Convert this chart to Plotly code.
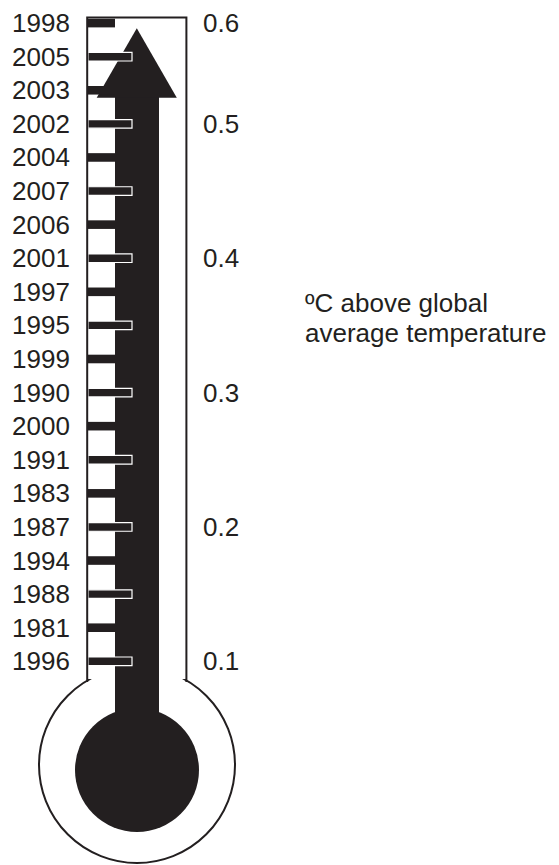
import plotly.graph_objects as go

# ---- data (bottom of thermometer to top) ----
years = [1996, 1981, 1988, 1994, 1987, 1983, 1991, 2000, 1990, 1999,
         1995, 1997, 2001, 2006, 2007, 2004, 2002, 2003, 2005, 1998]
scale_labels = ["0.1", "0.2", "0.3", "0.4", "0.5", "0.6"]
scale_years = [1996, 1987, 1990, 2001, 2002, 1998]  # year row each scale label aligns with
note_lines = ["ºC above global", "average temperature"]

INK = "#231f20"
FONT = "Liberation Sans, Arial, Helvetica, sans-serif"
WIN_W, WIN_H = 559, 865
OFF = 8  # default page body margin
W, H = WIN_W - OFF, WIN_H - OFF

# vertical axis in "row" units; helper converts page pixels of the drawing to axis units
Y0, S = 661.3, 33.59
def py(p):
    return (Y0 - p) / S

idx = list(range(len(years)))
long_tick = [i % 2 == 0 and i != len(years) - 1 for i in idx]

fig = go.Figure()

# ticks as horizontal bars
fig.add_trace(go.Bar(
    orientation="h",
    y=idx,
    x=[44 if lt else 27 for lt in long_tick],
    base=88,
    width=8.6 / S,
    marker=dict(color=INK,
                line=dict(color="white", width=[1.2 if lt else 0 for lt in long_tick])),
    hoverinfo="skip",
    showlegend=False,
))

shapes = [
    # outer bulb outline
    dict(type="circle", xref="x", yref="y", x0=39, x1=235, y0=py(667), y1=py(863),
         line=dict(color=INK, width=2), fillcolor="white", layer="below"),
    # tube interior mask
    dict(type="rect", xref="x", yref="y", x0=88.2, x1=185.4, y0=py(17), y1=py(679),
         line=dict(width=0), fillcolor="white", layer="below"),
    # mercury bulb
    dict(type="circle", xref="x", yref="y", x0=75, x1=199, y0=py(708), y1=py(832),
         line=dict(width=0), fillcolor=INK, layer="below"),
    # mercury shaft
    dict(type="rect", xref="x", yref="y", x0=115, x1=159, y0=py(97), y1=py(730),
         line=dict(width=0), fillcolor=INK, layer="below"),
    # arrow head
    dict(type="path", xref="x", yref="y",
         path=f"M 96.7,{py(97.7)} L 136.8,{py(28.3)} L 176.8,{py(97.7)} Z",
         line=dict(width=0), fillcolor=INK, layer="below"),
    # tube walls
    dict(type="path", xref="x", yref="y",
         path=f"M 87.2,{py(682)} L 87.2,{py(17.5)} L 186.4,{py(17.5)} L 186.4,{py(682)}",
         line=dict(color=INK, width=2), layer="above"),
]

FS = 26
annotations = []
for i, yr in enumerate(years):
    annotations.append(dict(x=72.0, y=i, xref="x", yref="y", text=str(yr),
                            showarrow=False, xanchor="right", yanchor="middle",
                            font=dict(family=FONT, size=FS, color=INK)))
for lab, yr in zip(scale_labels, scale_years):
    annotations.append(dict(x=200.5, y=years.index(yr), xref="x", yref="y", text=lab,
                            showarrow=False, xanchor="left", yanchor="middle",
                            font=dict(family=FONT, size=FS, color=INK)))
for k, line in enumerate(note_lines):
    annotations.append(dict(x=304, y=py(302.5 + 30 * k), xref="x", yref="y", text=line,
                            showarrow=False, xanchor="left", yanchor="middle", borderpad=0,
                            font=dict(family=FONT, size=FS, color=INK)))

fig.update_layout(
    width=W, height=H,
    margin=dict(l=0, r=0, t=0, b=0),
    paper_bgcolor="white", plot_bgcolor="white",
    xaxis=dict(range=[OFF, WIN_W], visible=False, fixedrange=True),
    yaxis=dict(range=[py(WIN_H), py(OFF)], visible=False, fixedrange=True),
    shapes=shapes,
    annotations=annotations,
    showlegend=False,
    hovermode=False,
)

fig.write_html("out.html", config={"displayModeBar": False})
